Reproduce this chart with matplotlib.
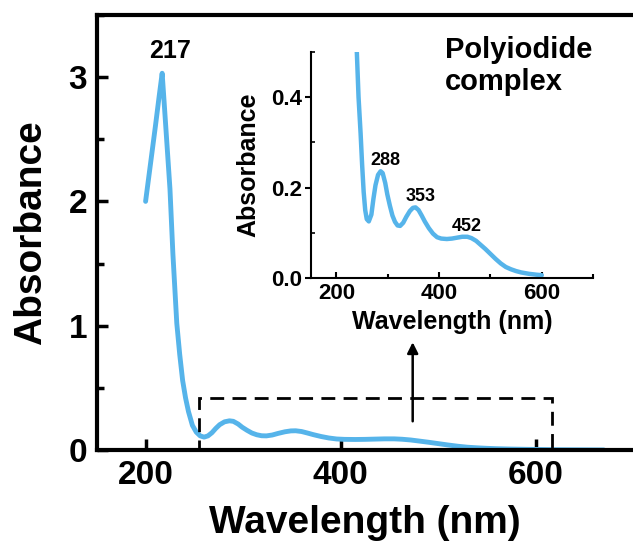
import matplotlib
matplotlib.use("Agg")
import matplotlib.pyplot as plt
from matplotlib.patches import Rectangle
from matplotlib.ticker import MultipleLocator

plt.rcParams['font.family'] = ['Liberation Sans', 'DejaVu Sans']
plt.rcParams['font.weight'] = 'bold'

blue = "#56b4ea"

# short-wavelength part (only in the main plot)
head_wl = [200, 205, 210, 214, 217, 219, 222, 225, 228, 230, 232, 235, 238, 241, 244,
           248, 252, 256, 260, 264]
head_abs = [2.0, 2.3, 2.6, 2.85, 3.03, 2.8, 2.45, 2.1, 1.58, 1.3, 1.02, 0.77, 0.56, 0.42,
            0.31, 0.2, 0.145, 0.115, 0.105, 0.115]

# spectrum shown in the inset (polyiodide complex)
inset_wl = [239, 243, 247, 250, 253, 256, 259, 263, 268, 272, 276, 281, 286, 290, 295,
            299, 304, 309, 314, 319, 324, 330, 336, 343, 349, 354, 360, 366, 372, 380,
            388, 396, 404, 415, 425, 435, 445, 455, 463, 472, 480, 490, 500, 510, 520,
            530, 540, 550, 560, 575, 590, 600]
inset_abs = [0.52, 0.40, 0.32, 0.25, 0.19, 0.15, 0.13, 0.125, 0.14, 0.175, 0.205, 0.228,
             0.236, 0.232, 0.21, 0.185, 0.16, 0.138, 0.124, 0.116, 0.115, 0.122, 0.135,
             0.148, 0.155, 0.156, 0.15, 0.138, 0.125, 0.11, 0.098, 0.09, 0.087, 0.086,
             0.087, 0.089, 0.091, 0.091, 0.088, 0.082, 0.074, 0.064, 0.053, 0.042, 0.032,
             0.024, 0.019, 0.015, 0.012, 0.009, 0.007, 0.006]

# tail of the main curve
tail_wl = [620, 645, 670]
tail_abs = [0.004, 0.003, 0.002]

peak_labels = ["288", "353", "452"]
peak_wl = [295, 364, 453]
peak_y = [0.259, 0.18, 0.114]

main_wl = head_wl + inset_wl[8:] + tail_wl
main_abs = head_abs + inset_abs[8:] + tail_abs

fig = plt.figure(figsize=(6.33, 5.47), dpi=100)
ax = fig.add_axes([0.153, 0.177, 0.847, 0.796])

ax.plot(main_wl, main_abs, color=blue, lw=3.5, solid_joinstyle='round', solid_capstyle='round')
ax.set_xlim(150, 700)
ax.set_ylim(0, 3.5)
ax.set_xticks([200, 400, 600])
ax.set_yticks([0, 1, 2, 3])
ax.yaxis.set_minor_locator(MultipleLocator(0.5))
ax.tick_params(which='both', direction='in', width=2.5, labelsize=24, pad=7)
ax.tick_params(which='major', length=8)
ax.tick_params(which='minor', length=5)
ax.spines['right'].set_visible(False)
for s in ['left', 'bottom', 'top']:
    ax.spines[s].set_linewidth(3)
ax.set_xlabel("Wavelength (nm)", fontsize=28, fontweight='bold', labelpad=10)
ax.set_ylabel("Absorbance", fontsize=28, fontweight='bold', labelpad=14)
ax.text(225, 3.21, "217", fontsize=18, fontweight='bold', ha='center', va='center')

# zoom box and arrow
box = Rectangle((255, 0), 362, 0.42, fill=False, ec='k', lw=2, ls=(0, (5, 3)), zorder=5, clip_on=False)
ax.add_patch(box)
ax.annotate("", xy=(474, 0.89), xytext=(474, 0.21),
            arrowprops=dict(arrowstyle='-|>', lw=1.8, color='k', mutation_scale=16))

# inset
ins = fig.add_axes([0.491, 0.492, 0.446, 0.413])
ins.set_facecolor('none')
ins.plot(inset_wl, inset_abs, color=blue, lw=3.2, solid_joinstyle='round', solid_capstyle='round')
ins.set_xlim(150, 700)
ins.set_ylim(0, 0.5)
ins.set_xticks([200, 400, 600])
ins.set_yticks([0.0, 0.2, 0.4])
ins.xaxis.set_minor_locator(MultipleLocator(100))
ins.yaxis.set_minor_locator(MultipleLocator(0.1))
ins.spines['right'].set_visible(False)
ins.spines['top'].set_visible(False)
for s in ['left', 'bottom']:
    ins.spines[s].set_linewidth(1.5)
ins.tick_params(axis='x', which='both', direction='in', width=1.5, labelsize=16, pad=4)
ins.tick_params(axis='y', which='major', direction='out', width=1.5, labelsize=16, pad=2)
ins.tick_params(axis='y', which='minor', direction='in', width=1.2)
ins.tick_params(which='major', length=4)
ins.tick_params(which='minor', length=3)
ins.set_xlabel("Wavelength (nm)", fontsize=18, fontweight='bold', labelpad=4)
ins.set_ylabel("Absorbance", fontsize=18, fontweight='bold', labelpad=8)
for lab, x, y in zip(peak_labels, peak_wl, peak_y):
    ins.text(x, y, lab, fontsize=13, fontweight='bold', ha='center', va='center')

fig.text(445 / 633, 1 - 36 / 547, "Polyiodide\ncomplex", fontsize=21, fontweight='bold',
         ha='left', va='top', linespacing=1.2)

fig.savefig("out.png", dpi=100)
